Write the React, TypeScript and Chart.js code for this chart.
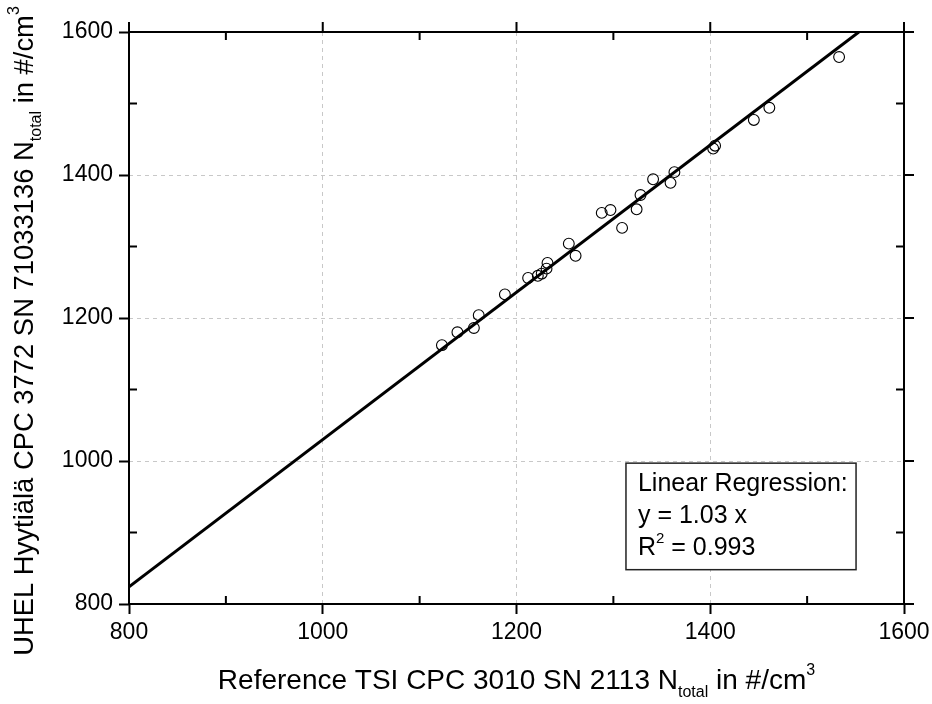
import React, { useEffect, useRef } from "react";
import { Chart, registerables } from "chart.js";

Chart.register(...registerables);

// Reference TSI CPC 3010 (x) vs UHEL Hyytiälä CPC 3772 (y), #/cm3
const refX = [1123, 1139, 1156, 1161, 1188, 1212, 1222, 1226, 1231, 1232, 1254, 1261, 1288, 1297, 1309, 1324, 1328, 1341, 1359, 1363, 1403, 1405, 1445, 1461, 1533];
const uhelY = [1162, 1180, 1186, 1204, 1233, 1256, 1259, 1262, 1269, 1277, 1304, 1287, 1347, 1351, 1326, 1352, 1372, 1394, 1389, 1404, 1437, 1441, 1477, 1494, 1565];

// Linear regression y = 1.03 x
const fitX = [800, 1553.4];
const fitY = [824, 1600];

const axisMin = 800;
const axisMax = 1600;
const majorStep = 200;
const minorTicks = [900, 1100, 1300, 1500];
const majorTicks = [800, 1000, 1200, 1400, 1600];

const xTitle = [
  { t: "Reference TSI CPC 3010 SN 2113 N", s: 28, dy: 0 },
  { t: "total", s: 16, dy: 8 },
  { t: " in #/cm", s: 28, dy: 0 },
  { t: "3", s: 16, dy: -14 },
];
const yTitle = [
  { t: "UHEL Hyytiälä CPC 3772 SN 71033136 N", s: 27.4, dy: 0 },
  { t: "total", s: 16, dy: 8 },
  { t: " in #/cm", s: 27.4, dy: 0 },
  { t: "3", s: 16, dy: -14 },
];
const boxLines = [
  [{ t: "Linear Regression:", s: 25, dy: 0 }],
  [{ t: "y = 1.03 x", s: 25, dy: 0 }],
  [
    { t: "R", s: 25, dy: 0 },
    { t: "2", s: 15, dy: -12 },
    { t: " = 0.993", s: 25, dy: 0 },
  ],
];
// box corners in data coordinates
const boxX = [1313, 1550.5];
const boxY = [997, 848];

const FONT = "'Liberation Sans', Arial, sans-serif";

type Seg = { t: string; s: number; dy: number };

function richWidth(ctx: CanvasRenderingContext2D, segs: Seg[]) {
  let w = 0;
  for (const g of segs) {
    ctx.font = `${g.s}px ${FONT}`;
    w += ctx.measureText(g.t).width;
  }
  return w;
}

function drawRich(ctx: CanvasRenderingContext2D, segs: Seg[], x: number, y: number) {
  let cx = x;
  for (const g of segs) {
    ctx.font = `${g.s}px ${FONT}`;
    ctx.fillText(g.t, cx, y + g.dy);
    cx += ctx.measureText(g.t).width;
  }
}

const decorPlugin = {
  id: "decor",
  afterDraw(chart: any) {
    const ctx: CanvasRenderingContext2D = chart.ctx;
    const { left, right, top, bottom } = chart.chartArea;
    const xs = chart.scales.x;
    const ys = chart.scales.y;
    ctx.save();
    ctx.strokeStyle = "#000";
    ctx.fillStyle = "#000";
    ctx.lineWidth = 2;
    // frame
    ctx.strokeRect(left, top, right - left, bottom - top);
    // ticks
    ctx.beginPath();
    for (const v of minorTicks) {
      const px = xs.getPixelForValue(v);
      const py = ys.getPixelForValue(v);
      ctx.moveTo(px, bottom); ctx.lineTo(px, bottom - 8);
      ctx.moveTo(px, top); ctx.lineTo(px, top + 8);
      ctx.moveTo(left, py); ctx.lineTo(left + 8, py);
      ctx.moveTo(right, py); ctx.lineTo(right - 8, py);
    }
    for (const v of majorTicks) {
      const px = xs.getPixelForValue(v);
      const py = ys.getPixelForValue(v);
      ctx.moveTo(px, top); ctx.lineTo(px, top - 10);
      ctx.moveTo(right, py); ctx.lineTo(right + 10, py);
    }
    ctx.stroke();

    // regression box
    const bx1 = xs.getPixelForValue(boxX[0]);
    const bx2 = xs.getPixelForValue(boxX[1]);
    const by1 = ys.getPixelForValue(boxY[0]);
    const by2 = ys.getPixelForValue(boxY[1]);
    ctx.fillStyle = "#fff";
    ctx.fillRect(bx1, by1, bx2 - bx1, by2 - by1);
    ctx.lineWidth = 1.5;
    ctx.strokeStyle = "#222";
    ctx.strokeRect(bx1, by1, bx2 - bx1, by2 - by1);
    ctx.fillStyle = "#000";
    ctx.textBaseline = "alphabetic";
    ctx.textAlign = "left";
    boxLines.forEach((ln, i) => {
      drawRich(ctx, ln, bx1 + 12, by1 + 28 + i * 32);
    });

    // axis titles
    const xw = richWidth(ctx, xTitle);
    drawRich(ctx, xTitle, (left + right) / 2 - xw / 2, 689);
    const yw = richWidth(ctx, yTitle);
    ctx.translate(33, 331);
    ctx.rotate(-Math.PI / 2);
    drawRich(ctx, yTitle, -yw / 2, 0);
    ctx.restore();
  },
};

export default function App() {
  const ref = useRef<HTMLCanvasElement | null>(null);
  useEffect(() => {
    if (!ref.current) return;
    const points = refX.map((x, i) => ({ x, y: uhelY[i] }));
    const fit = fitX.map((x, i) => ({ x, y: fitY[i] }));
    const axisCommon = (isX: boolean) => ({
      type: "linear" as const,
      min: axisMin,
      max: axisMax,
      ticks: {
        stepSize: majorStep,
        color: "#000",
        font: { family: FONT, size: 23 },
        padding: isX ? 5 : 6,
        maxRotation: 0,
        autoSkip: false,
        callback: (v: any) => String(v),
      },
      grid: {
        color: "#c8c8c8",
        lineWidth: 1,
        tickLength: 10,
        tickColor: "#000",
        tickWidth: 2,
        drawOnChartArea: true,
      },
      border: { display: false, dash: [4, 4] },
      afterFit: (s: any) => {
        if (isX) {
          s.height = 100;
          s.paddingLeft = 0;
          s.paddingRight = 0;
        } else {
          s.width = 129;
          s.paddingTop = 0;
          s.paddingBottom = 0;
        }
      },
    });
    const chart = new Chart(ref.current, {
      type: "scatter",
      data: {
        datasets: [
          {
            type: "line",
            data: fit,
            borderColor: "#000",
            borderWidth: 3,
            pointRadius: 0,
            fill: false,
          } as any,
          {
            data: points,
            pointStyle: "circle",
            pointRadius: 5.4,
            borderWidth: 1.1,
            borderColor: "#000",
            backgroundColor: "rgba(0,0,0,0)",
          },
        ],
      },
      options: {
        responsive: false,
        animation: false,
        layout: { padding: { left: 0, right: 28, top: 32, bottom: 0 } },
        plugins: { legend: { display: false }, tooltip: { enabled: false }, title: { display: false } },
        scales: { x: axisCommon(true), y: axisCommon(false) } as any,
      },
      plugins: [decorPlugin],
    });
    return () => chart.destroy();
  }, []);
  return (
    <div style={{ position: "fixed", left: 0, top: 0, width: 932, height: 704, background: "#fff" }}>
      <canvas ref={ref} width={932} height={704} style={{ display: "block" }} />
    </div>
  );
}
